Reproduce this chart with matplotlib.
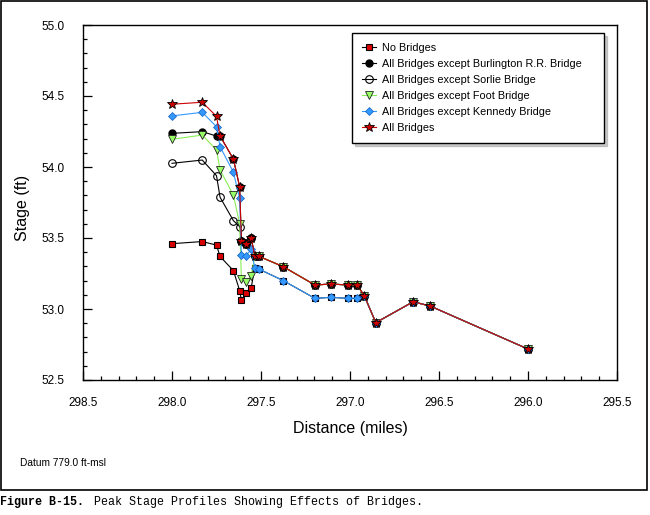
import matplotlib
matplotlib.use("Agg")
import matplotlib.pyplot as plt
from matplotlib.ticker import MultipleLocator, FormatStrFormatter
from matplotlib.patches import Rectangle

plt.rcParams['font.family'] = ['Liberation Sans', 'DejaVu Sans']

# ---- data ----
stations = [298.00, 297.83, 297.75, 297.73, 297.655, 297.62, 297.61, 297.585,
            297.555, 297.535, 297.51, 297.375, 297.197, 297.107, 297.01,
            296.96, 296.92, 296.855, 296.645, 296.55, 296.00]

no_bridges = [53.46, 53.475, 53.45, 53.37, 53.27, 53.13, 53.06, 53.115,
              53.15, 53.29, 53.28, 53.20, 53.075, 53.082, 53.075,
              53.075, 53.094, 52.904, 53.051, 53.021, 52.718]
burlington = [54.237, 54.249, 54.218, 54.218, 54.056, 53.861, 53.48, 53.46,
              53.50, 53.37, 53.37, 53.298, 53.169, 53.176, 53.169,
              53.169, 53.094, 52.904, 53.051, 53.021, 52.718]
sorlie = [54.026, 54.049, 53.939, 53.787, 53.622, 53.58, 53.48, 53.46,
          53.50, 53.37, 53.37, 53.298, 53.169, 53.176, 53.169,
          53.169, 53.094, 52.904, 53.051, 53.021, 52.718]
foot = [54.195, 54.225, 54.12, 53.979, 53.803, 53.60, 53.209, 53.192,
        53.234, 53.37, 53.37, 53.298, 53.169, 53.176, 53.169,
        53.169, 53.094, 52.904, 53.051, 53.021, 52.718]
kennedy = [54.36, 54.385, 54.284, 54.143, 53.963, 53.78, 53.38, 53.375,
           53.42, 53.29, 53.28, 53.20, 53.075, 53.082, 53.075,
           53.075, 53.094, 52.904, 53.051, 53.021, 52.718]
all_bridges = [54.442, 54.456, 54.357, 54.218, 54.056, 53.861, 53.48, 53.46,
               53.50, 53.37, 53.37, 53.298, 53.169, 53.176, 53.169,
               53.169, 53.094, 52.904, 53.051, 53.021, 52.718]

labels = ["No Bridges",
          "All Bridges except Burlington R.R. Bridge",
          "All Bridges except Sorlie Bridge",
          "All Bridges except Foot Bridge",
          "All Bridges except Kennedy Bridge",
          "All Bridges"]

x_ticks = [298.5, 298.0, 297.5, 297.0, 296.5, 296.0, 295.5]
y_ticks = [52.5, 53.0, 53.5, 54.0, 54.5, 55.0]

# ---- figure ----
fig = plt.figure(figsize=(6.5, 5.15), dpi=100)
ax = fig.add_axes([83/650, 1-380/515, 534/650, 355/515])

lw = 0.8
ax.plot(stations, no_bridges, color='black', lw=lw, marker='s', ms=5,
        mfc='#dd0000', mec='black', mew=0.8, label=labels[0], zorder=2)
ax.plot(stations, burlington, color='black', lw=lw, marker='o', ms=5,
        mfc='black', mec='black', label=labels[1], zorder=3)
ax.plot(stations, sorlie, color='black', lw=lw, marker='o', ms=5.5,
        mfc='none', mec='black', mew=0.8, label=labels[2], zorder=4)
ax.plot(stations, foot, color='#88ee55', lw=lw, marker='v', ms=6,
        mfc='#99ff66', mec='#222222', mew=0.6, label=labels[3], zorder=5)
ax.plot(stations, kennedy, color='#3399ff', lw=lw, marker='D', ms=4.5,
        mfc='#3399ff', mec='#1060c0', mew=0.5, label=labels[4], zorder=6)
ax.plot(stations, all_bridges, color='#cc0000', lw=lw, marker='*', ms=7.5,
        mfc='#cc0000', mec='black', mew=0.6, label=labels[5], zorder=7)

ax.set_xlim(x_ticks[0], x_ticks[-1])
ax.set_ylim(y_ticks[0], y_ticks[-1])
ax.set_xticks(x_ticks)
ax.set_yticks(y_ticks)
ax.xaxis.set_minor_locator(MultipleLocator(0.1))
ax.yaxis.set_minor_locator(MultipleLocator(0.1))
ax.xaxis.set_major_formatter(FormatStrFormatter('%.1f'))
ax.yaxis.set_major_formatter(FormatStrFormatter('%.1f'))

ax.tick_params(axis='both', which='major', direction='in', length=6.5,
               width=0.9, labelsize=8.5, top=False, right=False)
ax.tick_params(axis='both', which='minor', direction='in', length=2.8,
               width=0.9, top=False, right=False)
ax.tick_params(axis='y', which='major', pad=13)
ax.tick_params(axis='x', which='major', pad=12)
for s in ax.spines.values():
    s.set_linewidth(1.0)

ax.set_xlabel("Distance (miles)", fontsize=11.5)
ax.xaxis.label.set_va('center')
ax.xaxis.set_label_coords((350-83)/534, (380-428)/355)
ax.set_ylabel("Stage (ft)", fontsize=11.5)
ax.yaxis.label.set_va('center')
ax.yaxis.set_label_coords((22-83)/534, (380-208)/355)

leg = ax.legend(loc='upper left',
                bbox_to_anchor=((352-83)/534, (380-37)/355, (604-352)/534, 0.01),
                mode='expand', fontsize=7.8, frameon=True, fancybox=False,
                edgecolor='black', framealpha=1, handlelength=1.3,
                handletextpad=0.6, labelspacing=0.55, borderpad=0.9,
                borderaxespad=0, shadow={'ox': 2, 'oy': -2, 'color': '0.6'})
leg.get_frame().set_linewidth(1.0)

fig.text(20/650, 1-463/515, "Datum 779.0 ft-msl", fontsize=7.3,
         ha='left', va='center')

# outer frame
fig.add_artist(Rectangle((1/650, 1-490/515), 646/650, 489/515,
                         transform=fig.transFigure, fill=False,
                         edgecolor='black', linewidth=1.2))

fig.text(0/650, 1-502/515, "Figure B-15.", fontsize=8.4, fontweight='bold',
         family=['Liberation Mono', 'DejaVu Sans Mono'], ha='left', va='center')
fig.text(94/650, 1-502/515, "Peak Stage Profiles Showing Effects of Bridges.",
         fontsize=8.4, family=['Liberation Mono', 'DejaVu Sans Mono'],
         ha='left', va='center')

fig.savefig("out.png", dpi=100, facecolor='white')
